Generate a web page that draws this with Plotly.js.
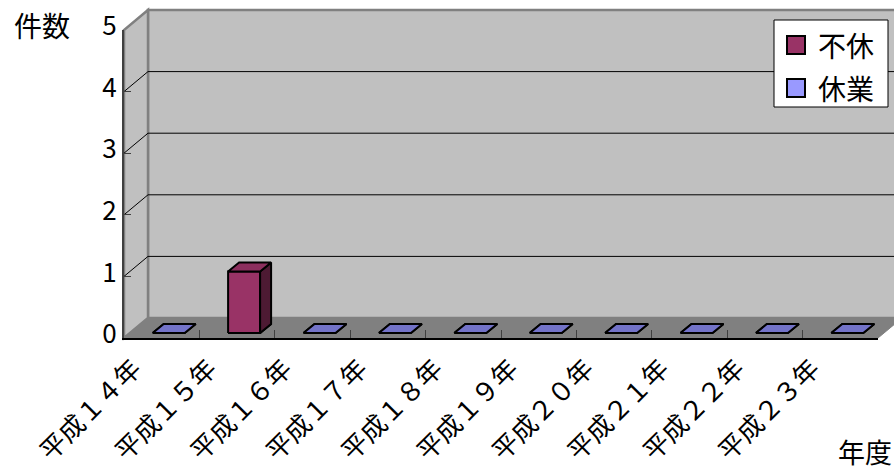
<!DOCTYPE html>
<html>
<head>
<meta charset="utf-8">
<script src="https://cdn.plot.ly/plotly-3.0.1.min.js"></script>
<style>html,body{margin:0;padding:0;background:#fff}#chart{width:894px;height:472px}</style>
</head>
<body>
<div id="chart"></div>
<script>
// ---- data ----
const categories = ['平成１４年','平成１５年','平成１６年','平成１７年','平成１８年','平成１９年','平成２０年','平成２１年','平成２２年','平成２３年'];
const fukyu = [0, 1, 0, 0, 0, 0, 0, 0, 0, 0];   // 不休
const kyugyo = [0, 0, 0, 0, 0, 0, 0, 0, 0, 0];  // 休業
const seriesNames = ['不休', '休業'];
const yTickVals = [0, 1, 2, 3, 4, 5];
const yTitle = '件数';
const xTitle = '年度';

// ---- styling / geometry ----
const W = 894, H = 472;
const M = {l: 124, r: 16, t: 30, b: 134};
const plotW = W - M.l - M.r, plotH = H - M.t - M.b;
const yMax = 5;
const pxPerCat = plotW / categories.length;
const pxPerUnit = plotH / yMax;
// 3D depth of walls (pixels) in paper units
const DX = 24 / plotW, DY = 20 / plotH;
// bar geometry in data units
const BAR_LEFT = -9 / pxPerCat, BAR_W = 32 / pxPerCat, BAR_BASE = 5 / pxPerUnit;
const DDX = 11 / pxPerCat, DDY = 9 / pxPerUnit;

const FONT = '"Noto Sans CJK JP", "Noto Sans", sans-serif';
const colors = {
  '不休': {front: '#993366', top: '#8c2f5e', side: '#4d1a33', legend: '#993366'},
  '休業': {front: '#9999ff', top: '#7373c8', side: '#4d4d80', legend: '#9999ff'}
};
const seriesValues = [fukyu, kyugyo];

// helpers: pixel -> paper
const px = v => (v - M.l) / plotW;
const py = v => (M.t + plotH - v) / plotH;

function addPoly(arrX, arrY, pts) {
  pts.forEach(p => { arrX.push(p[0]); arrY.push(p[1]); });
  arrX.push(pts[0][0]); arrY.push(pts[0][1]);
  arrX.push(null); arrY.push(null);
}

const traces = [];
// invisible trace to drive the category axis
traces.push({x: categories, y: categories.map(() => 0), type: 'scatter', mode: 'none',
  hoverinfo: 'skip', showlegend: false, xaxis: 'x', yaxis: 'y'});

function faceTraces(sIdx, wantNonZero) {
  const vals = seriesValues[sIdx];
  const c = colors[seriesNames[sIdx]];
  const f = {x: [], y: []}, s = {x: [], y: []}, t = {x: [], y: []};
  vals.forEach((v, i) => {
    if ((v > 0) !== wantNonZero) return;
    const xl = i + BAR_LEFT, xr = xl + BAR_W, yb = BAR_BASE, yt = BAR_BASE + v;
    if (v > 0) {
      addPoly(f.x, f.y, [[xl, yb], [xr, yb], [xr, yt], [xl, yt]]);
      addPoly(s.x, s.y, [[xr, yb], [xr + DDX, yb + DDY], [xr + DDX, yt + DDY], [xr, yt]]);
    }
    addPoly(t.x, t.y, [[xl, yt], [xr, yt], [xr + DDX, yt + DDY], [xl + DDX, yt + DDY]]);
  });
  [[f, c.front], [s, c.side], [t, c.top]].forEach(([d, col]) => {
    if (!d.x.length) return;
    traces.push({x: d.x, y: d.y, type: 'scatter', mode: 'lines', fill: 'toself',
      fillcolor: col, line: {color: '#000', width: 2}, xaxis: 'x2', yaxis: 'y2',
      hoverinfo: 'skip', showlegend: false, cliponaxis: false});
  });
}
// zero-height flats first (series order), then columns
seriesNames.forEach((n, i) => faceTraces(i, false));
seriesNames.forEach((n, i) => faceTraces(i, true));

// ---- 3D frame (walls, floor, gridlines) ----
const shapes = [];
const gray = '#808080';
// back wall
shapes.push({type: 'rect', xref: 'paper', yref: 'paper', x0: DX, x1: 1 + DX, y0: DY, y1: 1 + DY,
  fillcolor: '#c0c0c0', line: {color: gray, width: 2.5}, layer: 'below'});
// left wall
shapes.push({type: 'path', xref: 'paper', yref: 'paper',
  path: `M0,0 L${DX},${DY} L${DX},${1 + DY} L0,1 Z`,
  fillcolor: '#c0c0c0', line: {color: gray, width: 2.5}, layer: 'below'});
// floor
shapes.push({type: 'path', xref: 'paper', yref: 'paper',
  path: `M0,0 L1,0 L${1 + DX},${DY} L${DX},${DY} Z`,
  fillcolor: gray, line: {color: gray, width: 1}, layer: 'below'});
// gridlines on back wall and left wall
yTickVals.forEach(k => {
  if (k <= 0 || k >= yMax) return;
  const yy = k / yMax;
  shapes.push({type: 'line', xref: 'paper', yref: 'paper', x0: DX, x1: 1 + DX, y0: yy + DY, y1: yy + DY,
    line: {color: '#000', width: 1}, layer: 'below'});
  shapes.push({type: 'line', xref: 'paper', yref: 'paper', x0: 0, x1: DX, y0: yy, y1: yy + DY,
    line: {color: '#000', width: 1}, layer: 'below'});
});

// ---- legend (drawn manually so it does not push the plot margins) ----
const LEG = {x0: 774, x1: 888, y0: 20, y1: 107, row0: 45, rowGap: 43, sq: 18, sqX: 787, textX: 816};
shapes.push({type: 'rect', xref: 'paper', yref: 'paper', x0: px(LEG.x0), x1: px(LEG.x1),
  y0: py(LEG.y1), y1: py(LEG.y0), fillcolor: '#fff', line: {color: '#000', width: 1}, layer: 'above'});
const annotations = [];
seriesNames.forEach((n, i) => {
  const cy = LEG.row0 + i * LEG.rowGap;
  shapes.push({type: 'rect', xref: 'paper', yref: 'paper', x0: px(LEG.sqX), x1: px(LEG.sqX + LEG.sq),
    y0: py(cy + LEG.sq / 2), y1: py(cy - LEG.sq / 2), fillcolor: colors[n].legend,
    line: {color: '#000', width: 2}, layer: 'above'});
  annotations.push({text: n, xref: 'paper', yref: 'paper', x: px(LEG.textX), y: py(cy),
    xanchor: 'left', yanchor: 'middle', showarrow: false, font: {family: FONT, size: 28}});
});

annotations.push(
  {text: yTitle, xref: 'paper', yref: 'paper', x: px(42), y: py(25),
    xanchor: 'center', yanchor: 'middle', showarrow: false, font: {family: FONT, size: 28}},
  {text: xTitle, xref: 'paper', yref: 'paper', x: px(836), y: py(451),
    xanchor: 'left', yanchor: 'middle', showarrow: false, font: {family: FONT, size: 27}}
);

const layout = {
  width: W, height: H,
  margin: M,
  paper_bgcolor: '#fff', plot_bgcolor: 'rgba(0,0,0,0)',
  font: {family: FONT, color: '#000', size: 20},
  showlegend: false,
  xaxis: {type: 'category', categoryorder: 'array', categoryarray: categories,
    range: [-0.5, categories.length - 0.5], tickson: 'boundaries', ticks: 'inside', ticklen: 8,
    tickcolor: '#404040', tickwidth: 1, showline: true, linecolor: '#000', linewidth: 2,
    showgrid: false, zeroline: false, tickangle: -45, tickfont: {family: FONT, size: 26},
    ticklabelshift: -28, ticklabelstandoff: 3, fixedrange: true},
  yaxis: {range: [0, yMax], tickvals: yTickVals, ticks: 'inside', ticklen: 7, tickcolor: '#404040',
    showline: true, linecolor: '#404040', linewidth: 2, showgrid: false, zeroline: false,
    tickfont: {family: FONT, size: 26}, ticklabelshift: -4, fixedrange: true},
  xaxis2: {overlaying: 'x', anchor: 'y2', range: [-0.5, categories.length - 0.5], visible: false, fixedrange: true},
  yaxis2: {overlaying: 'y', anchor: 'x2', range: [0, yMax], visible: false, fixedrange: true},
  shapes: shapes,
  annotations: annotations
};

Plotly.newPlot('chart', traces, layout, {staticPlot: true, displayModeBar: false});
</script>
</body>
</html>
